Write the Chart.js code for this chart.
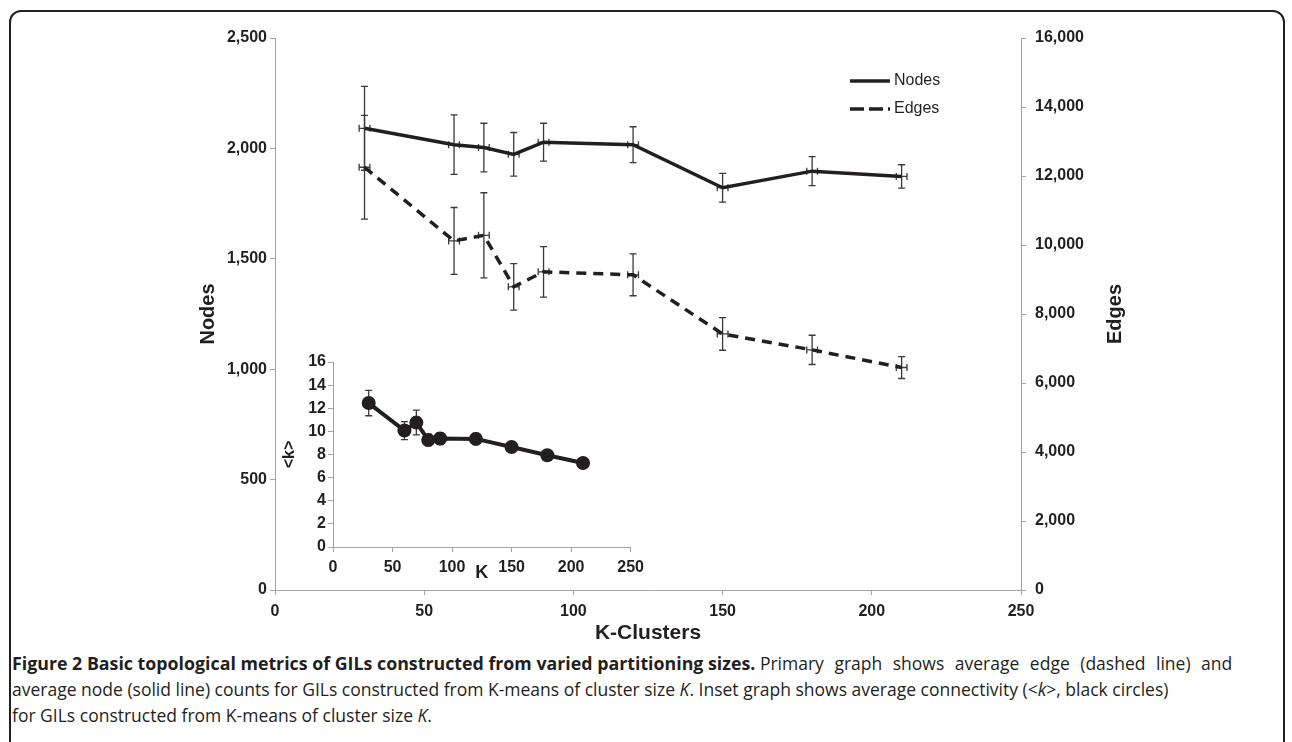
<!DOCTYPE html>
<html>
<head>
<meta charset="utf-8">
<script src="https://cdn.jsdelivr.net/npm/chart.js@4.4.1/dist/chart.umd.min.js"></script>
<style>
  html, body { margin: 0; padding: 0; background: #fff; }
  body { width: 1292px; height: 742px; position: relative; overflow: hidden; }
  .frame {
    position: absolute; left: 9px; top: 10px; width: 1272px; height: 800px;
    border: 2px solid #231f20; border-radius: 12px;
  }
  #mainChart { position: absolute; left: 0; top: 0; }
  #insetChart { position: absolute; left: 230px; top: 340px; }
  .caption {
    position: absolute; left: 12px; top: 650px;
    font-family: 'Open Sans', sans-serif; font-size: 17.5px; line-height: 26px;
    color: #231f20; white-space: nowrap;
  }
  .caption b { font-weight: 700; font-size: 17.8px; }
  .caption .spread { word-spacing: 6px; }
</style>
</head>
<body>
<div class="frame"></div>
<canvas id="mainChart" width="1292" height="650"></canvas>
<canvas id="insetChart" width="420" height="250"></canvas>
<div class="caption">
  <div><b>Figure 2 Basic topological metrics of GILs constructed from varied partitioning sizes.</b> <span class="spread">Primary graph shows average edge (dashed line) and</span></div>
  <div>average node (solid line) counts for GILs constructed from K-means of cluster size <i>K</i>. Inset graph shows average connectivity (&lt;<i>k</i>&gt;, black circles)</div>
  <div>for GILs constructed from K-means of cluster size <i>K</i>.</div>
</div>
<script>
// ---- data ----
const kClusters = [30, 60, 70, 80, 90, 120, 150, 180, 210];
const kErr      = [1.8, 1.8, 1.8, 1.8, 1.8, 1.8, 1.8, 1.8, 1.8];
const nodes     = [2091, 2017, 2004, 1973, 2028, 2017, 1822, 1897, 1873];
const nodesErr  = [190, 135, 110, 99, 86, 81, 65, 66, 53];
const edges     = [12254, 10117, 10281, 8788, 9222, 9135, 7422, 6960, 6449];
const edgesErr  = [1505, 970, 1233, 674, 732, 606, 472, 424, 318];
const degree    = [12.45, 10.07, 10.76, 9.26, 9.38, 9.35, 8.65, 7.93, 7.27];
const degreeErr = [1.1, 0.78, 1.07, 0.5, 0.52, 0.5, 0.46, 0.4, 0.22];

const ink = '#231f20';
const axisGray = '#a3a3a3';
const barColor = '#3a3a3a';
const fontFamily = "'Liberation Sans', Arial, sans-serif";

Chart.defaults.font.family = fontFamily;
Chart.defaults.color = ink;

// error bars drawn from the dataset's errY / errX arrays
const errorBars = {
  id: 'errorBars',
  beforeDatasetsDraw(chart) {
    const ctx = chart.ctx;
    const xScale = chart.scales.x;
    ctx.save();
    ctx.strokeStyle = barColor;
    ctx.lineWidth = 1.3;
    chart.data.datasets.forEach(ds => {
      const yScale = chart.scales[ds.yAxisID || 'y'];
      ds.data.forEach((p, i) => {
        const x = xScale.getPixelForValue(p.x);
        const y = yScale.getPixelForValue(p.y);
        if (ds.errY) {
          const top = yScale.getPixelForValue(p.y + ds.errY[i]);
          const bot = yScale.getPixelForValue(p.y - ds.errY[i]);
          ctx.beginPath();
          ctx.moveTo(x, top); ctx.lineTo(x, bot);
          ctx.moveTo(x - 3.5, top); ctx.lineTo(x + 3.5, top);
          ctx.moveTo(x - 3.5, bot); ctx.lineTo(x + 3.5, bot);
          ctx.stroke();
        }
        if (ds.errX) {
          const l = xScale.getPixelForValue(p.x - ds.errX[i]);
          const r = xScale.getPixelForValue(p.x + ds.errX[i]);
          ctx.beginPath();
          ctx.moveTo(l, y); ctx.lineTo(r, y);
          ctx.moveTo(l, y - 3.5); ctx.lineTo(l, y + 3.5);
          ctx.moveTo(r, y - 3.5); ctx.lineTo(r, y + 3.5);
          ctx.stroke();
        }
      });
    });
    ctx.restore();
  }
};

// legend sitting inside the plot, top right
const insideLegend = {
  id: 'insideLegend',
  afterDatasetsDraw(chart, args, opts) {
    const ctx = chart.ctx;
    ctx.save();
    chart.data.datasets.forEach((ds, i) => {
      const y = opts.y + i * opts.rowGap;
      ctx.beginPath();
      ctx.setLineDash(ds.legendDash || []);
      ctx.lineWidth = ds.borderWidth;
      ctx.strokeStyle = ds.borderColor;
      ctx.moveTo(opts.x, y);
      ctx.lineTo(opts.x + opts.lineLength, y);
      ctx.stroke();
      ctx.setLineDash([]);
      ctx.fillStyle = ink;
      ctx.font = '16px ' + fontFamily;
      ctx.textBaseline = 'middle';
      ctx.fillText(ds.label, opts.x + opts.lineLength + 4, y);
    });
    ctx.restore();
  }
};

// right axis title reading bottom-to-top, like the left one
const rightTitle = {
  id: 'rightTitle',
  afterDraw(chart, args, opts) {
    const s = chart.scales[opts.scaleId];
    const ctx = chart.ctx;
    ctx.save();
    ctx.translate(s.right - opts.offset, (s.top + s.bottom) / 2);
    ctx.rotate(-Math.PI / 2);
    ctx.textAlign = 'center';
    ctx.textBaseline = 'middle';
    ctx.fillStyle = ink;
    ctx.font = 'bold 20px ' + fontFamily;
    ctx.fillText(opts.text, 0, 0);
    ctx.restore();
  }
};

const pairs = (xs, ys) => xs.map((x, i) => ({ x: x, y: ys[i] }));
const tickFont = { size: 16, weight: 'bold' };
const commas = v => v.toLocaleString('en-US');

// ── Main chart: nodes (left) and edges (right) ──
new Chart(document.getElementById('mainChart'), {
  type: 'line',
  data: {
    datasets: [
      {
        label: 'Nodes',
        data: pairs(kClusters, nodes),
        yAxisID: 'y',
        borderColor: ink,
        borderWidth: 3.5,
        pointRadius: 0,
        errY: nodesErr,
        errX: kErr,
      },
      {
        label: 'Edges',
        data: pairs(kClusters, edges),
        yAxisID: 'y1',
        borderColor: ink,
        borderWidth: 3.5,
        borderDash: [10, 7],
        legendDash: [14, 5],
        pointRadius: 0,
        errY: edgesErr,
        errX: kErr,
      }
    ]
  },
  options: {
    responsive: false,
    animation: false,
    devicePixelRatio: 1,
    layout: { padding: { left: 192, right: 161, top: 38, bottom: 0 } },
    plugins: {
      legend: { display: false },
      tooltip: { enabled: false },
      insideLegend: { x: 850, y: 81, rowGap: 28, lineLength: 40 },
      rightTitle: { scaleId: 'y1', text: 'Edges', offset: 16 }
    },
    scales: {
      x: {
        type: 'linear', min: 0, max: 250,
        ticks: { stepSize: 50, padding: 7, font: tickFont },
        grid: { drawOnChartArea: false, tickLength: 5, color: axisGray },
        border: { color: axisGray },
        title: { display: true, text: 'K-Clusters', font: { size: 21, weight: 'bold' }, padding: { top: 0, bottom: 4 } },
        afterFit: s => { s.height = 60; }
      },
      y: {
        position: 'left', min: 0, max: 2500,
        ticks: { stepSize: 500, padding: 3, font: tickFont, callback: commas },
        grid: { drawOnChartArea: false, tickLength: 5, color: axisGray },
        border: { color: axisGray },
        title: { display: true, text: 'Nodes', font: { size: 20, weight: 'bold' }, padding: { top: 4, bottom: 0 } },
        afterFit: s => { s.width = 83; }
      },
      y1: {
        position: 'right', min: 0, max: 16000,
        ticks: { stepSize: 2000, padding: 9, font: tickFont, callback: commas },
        grid: { drawOnChartArea: false, tickLength: 5, color: axisGray },
        border: { color: axisGray },
        title: { display: false },
        afterFit: s => { s.width = 110; }
      }
    }
  },
  plugins: [errorBars, insideLegend, rightTitle]
});

// ── Inset: average connectivity <k> ──
new Chart(document.getElementById('insetChart'), {
  type: 'line',
  data: {
    datasets: [{
      label: '<k>',
      data: pairs(kClusters, degree),
      yAxisID: 'y',
      borderColor: ink,
      borderWidth: 4,
      pointRadius: 7,
      pointBackgroundColor: ink,
      pointBorderColor: ink,
      pointBorderWidth: 0,
      errY: degreeErr,
    }]
  },
  options: {
    responsive: false,
    animation: false,
    devicePixelRatio: 1,
    layout: { padding: { left: 46, right: 17, top: 22, bottom: 0 } },
    plugins: { legend: { display: false }, tooltip: { enabled: false } },
    scales: {
      x: {
        type: 'linear', min: 0, max: 250,
        ticks: { stepSize: 50, padding: 6, font: tickFont },
        grid: { drawOnChartArea: false, tickLength: 5, color: axisGray },
        border: { color: axisGray },
        title: { display: true, text: 'K', font: { size: 18, weight: 'bold' }, padding: { top: 0, bottom: 6 } },
        afterFit: s => { s.height = 43; }
      },
      y: {
        min: 0, max: 16,
        ticks: { stepSize: 2, padding: 2, font: tickFont },
        grid: { drawOnChartArea: false, tickLength: 5, color: axisGray },
        border: { color: axisGray },
        title: { display: true, text: '<k>', font: { size: 16, weight: 'bold' }, padding: { top: 4, bottom: 0 } },
        afterFit: s => { s.width = 57; }
      }
    }
  },
  plugins: [errorBars]
});
</script>
</body>
</html>
